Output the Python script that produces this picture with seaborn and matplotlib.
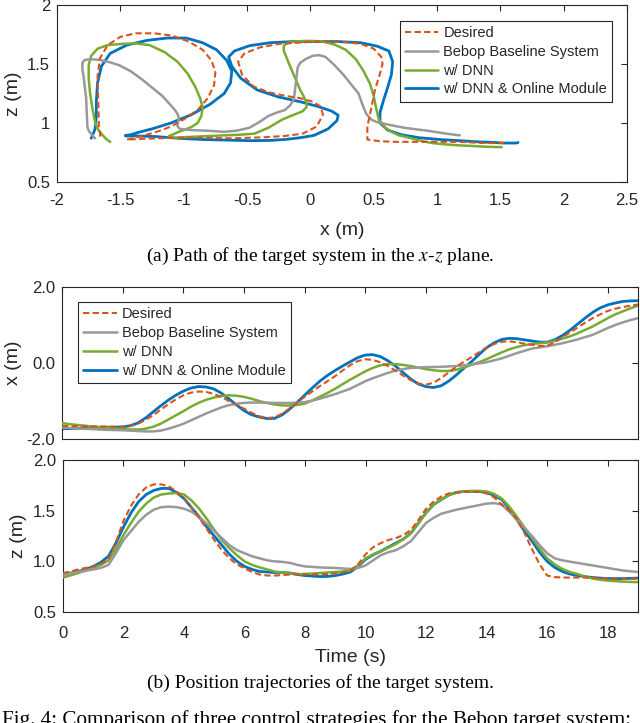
import matplotlib
matplotlib.use("Agg")
import matplotlib.pyplot as plt
import seaborn as sns
import numpy as np
import pandas as pd

# time samples (s)
t = [0.0, 0.25, 0.5, 0.75, 1.0, 1.25, 1.5, 1.75, 2.0, 2.25, 2.5, 2.75,
     3.0, 3.25, 3.5, 3.75, 4.0, 4.25, 4.5, 4.75, 5.0, 5.25, 5.5, 5.75,
     6.0, 6.25, 6.5, 6.75, 7.0, 7.25, 7.5, 7.75, 8.0, 8.25, 8.5, 8.75,
     9.0, 9.25, 9.5, 9.75, 10.0, 10.25, 10.5, 10.75, 11.0, 11.25, 11.5, 11.75,
     12.0, 12.25, 12.5, 12.75, 13.0, 13.25, 13.5, 13.75, 14.0, 14.25, 14.5, 14.75,
     15.0, 15.25, 15.5, 15.75, 16.0, 16.25, 16.5, 16.75, 17.0, 17.25, 17.5, 17.75,
     18.0, 18.25, 18.5, 18.75, 19.0]

# x position (m)
x_desired = [-1.66, -1.66, -1.66, -1.665, -1.67, -1.67, -1.67, -1.675, -1.68, -1.66, -1.60, -1.50,
             -1.38, -1.23, -1.09, -0.96, -0.85, -0.78, -0.75, -0.76, -0.81, -0.89, -1.00, -1.10,
             -1.20, -1.31, -1.40, -1.45, -1.43, -1.34, -1.20, -1.05, -0.89, -0.75, -0.61, -0.48,
             -0.35, -0.20, -0.06, 0.05, 0.10, 0.08, 0.02, -0.08, -0.20, -0.33, -0.45, -0.54,
             -0.57, -0.52, -0.40, -0.25, -0.10, 0.03, 0.15, 0.28, 0.40, 0.50, 0.56, 0.57,
             0.55, 0.51, 0.48, 0.45, 0.45, 0.55, 0.68, 0.80, 0.93, 1.06, 1.18, 1.28,
             1.37, 1.43, 1.47, 1.51, 1.54]
x_bebop = [-1.70, -1.71, -1.72, -1.73, -1.74, -1.75, -1.76, -1.765, -1.77, -1.78, -1.79, -1.80,
           -1.80, -1.78, -1.73, -1.67, -1.60, -1.51, -1.42, -1.33, -1.25, -1.17, -1.11, -1.07,
           -1.05, -1.04, -1.04, -1.045, -1.05, -1.05, -1.05, -1.045, -1.03, -0.99, -0.94, -0.88,
           -0.82, -0.75, -0.68, -0.58, -0.48, -0.40, -0.33, -0.26, -0.20, -0.16, -0.13, -0.12,
           -0.11, -0.105, -0.10, -0.09, -0.08, -0.06, -0.04, -0.01, 0.02, 0.07, 0.12, 0.19,
           0.26, 0.32, 0.38, 0.41, 0.44, 0.48, 0.52, 0.57, 0.62, 0.68, 0.74, 0.83,
           0.92, 1.00, 1.07, 1.13, 1.18]
x_dnn = [-1.58, -1.61, -1.63, -1.65, -1.67, -1.685, -1.70, -1.72, -1.74, -1.75, -1.75, -1.73,
         -1.68, -1.60, -1.49, -1.38, -1.27, -1.15, -1.05, -0.97, -0.91, -0.87, -0.85, -0.86,
         -0.89, -0.94, -1.00, -1.05, -1.09, -1.115, -1.12, -1.105, -1.07, -0.99, -0.89, -0.79,
         -0.68, -0.56, -0.44, -0.33, -0.22, -0.13, -0.06, -0.03, -0.03, -0.05, -0.08, -0.12,
         -0.16, -0.19, -0.21, -0.21, -0.18, -0.12, -0.05, 0.02, 0.10, 0.19, 0.28, 0.36,
         0.42, 0.47, 0.50, 0.52, 0.54, 0.58, 0.64, 0.70, 0.78, 0.87, 0.96, 1.07,
         1.18, 1.28, 1.36, 1.44, 1.51]
x_online = [-1.73, -1.725, -1.72, -1.71, -1.70, -1.695, -1.69, -1.69, -1.68, -1.65, -1.58, -1.45,
            -1.29, -1.13, -0.98, -0.85, -0.74, -0.66, -0.62, -0.63, -0.68, -0.79, -0.94, -1.10,
            -1.25, -1.36, -1.42, -1.46, -1.46, -1.37, -1.22, -1.04, -0.85, -0.66, -0.48, -0.33,
            -0.20, -0.08, 0.03, 0.14, 0.21, 0.22, 0.17, 0.06, -0.08, -0.25, -0.42, -0.55,
            -0.62, -0.645, -0.60, -0.48, -0.32, -0.14, 0.03, 0.22, 0.40, 0.53, 0.62, 0.65,
            0.64, 0.61, 0.58, 0.55, 0.55, 0.61, 0.72, 0.86, 1.02, 1.18, 1.33, 1.45,
            1.53, 1.58, 1.62, 1.635, 1.64]

# z position (m)
z_desired = [0.885, 0.90, 0.92, 0.935, 0.95, 0.975, 1.02, 1.19, 1.40, 1.55, 1.66, 1.73,
             1.76, 1.76, 1.74, 1.69, 1.62, 1.53, 1.43, 1.32, 1.21, 1.11, 1.03, 0.97,
             0.93, 0.895, 0.87, 0.86, 0.86, 0.865, 0.87, 0.875, 0.875, 0.872, 0.87, 0.875,
             0.88, 0.89, 0.91, 0.97, 1.07, 1.14, 1.18, 1.21, 1.23, 1.26, 1.31, 1.41,
             1.52, 1.59, 1.64, 1.67, 1.68, 1.69, 1.69, 1.685, 1.67, 1.63, 1.56, 1.50,
             1.42, 1.28, 1.12, 0.97, 0.86, 0.845, 0.84, 0.84, 0.84, 0.84, 0.84, 0.835,
             0.83, 0.83, 0.83, 0.83, 0.83]
z_bebop = [0.87, 0.882, 0.895, 0.907, 0.92, 0.935, 0.965, 1.08, 1.21, 1.30, 1.39, 1.46,
           1.51, 1.535, 1.54, 1.535, 1.52, 1.49, 1.44, 1.37, 1.30, 1.23, 1.16, 1.11,
           1.08, 1.05, 1.03, 1.01, 1.00, 0.995, 0.985, 0.965, 0.95, 0.945, 0.94, 0.937,
           0.935, 0.93, 0.925, 0.935, 0.96, 1.01, 1.06, 1.09, 1.11, 1.15, 1.20, 1.29,
           1.38, 1.43, 1.47, 1.49, 1.51, 1.525, 1.54, 1.555, 1.57, 1.575, 1.56, 1.49,
           1.41, 1.33, 1.25, 1.16, 1.08, 1.03, 1.01, 0.997, 0.985, 0.972, 0.96, 0.947,
           0.935, 0.922, 0.91, 0.902, 0.895]
z_dnn = [0.84, 0.862, 0.885, 0.91, 0.935, 0.965, 1.01, 1.12, 1.26, 1.38, 1.49, 1.57,
         1.63, 1.66, 1.67, 1.675, 1.66, 1.60, 1.52, 1.42, 1.31, 1.21, 1.13, 1.06,
         1.00, 0.965, 0.94, 0.92, 0.90, 0.89, 0.88, 0.875, 0.875, 0.88, 0.885, 0.89,
         0.895, 0.90, 0.91, 0.96, 1.03, 1.07, 1.10, 1.135, 1.17, 1.22, 1.28, 1.38,
         1.48, 1.56, 1.61, 1.655, 1.68, 1.69, 1.695, 1.695, 1.69, 1.665, 1.62, 1.54,
         1.44, 1.335, 1.23, 1.125, 1.03, 0.97, 0.925, 0.895, 0.875, 0.85, 0.83, 0.818,
         0.81, 0.805, 0.80, 0.797, 0.795]
z_online = [0.87, 0.885, 0.90, 0.92, 0.95, 0.99, 1.05, 1.18, 1.34, 1.48, 1.59, 1.66,
            1.70, 1.72, 1.72, 1.68, 1.62, 1.53, 1.44, 1.34, 1.25, 1.16, 1.07, 1.00,
            0.95, 0.92, 0.90, 0.895, 0.89, 0.89, 0.885, 0.87, 0.86, 0.855, 0.85, 0.852,
            0.86, 0.875, 0.895, 0.95, 1.02, 1.065, 1.10, 1.14, 1.18, 1.22, 1.28, 1.38,
            1.48, 1.56, 1.61, 1.655, 1.68, 1.69, 1.69, 1.69, 1.68, 1.65, 1.61, 1.52,
            1.41, 1.30, 1.20, 1.09, 1.00, 0.94, 0.90, 0.875, 0.86, 0.85, 0.84, 0.835,
            0.83, 0.83, 0.83, 0.832, 0.835]

names = ["Desired", "Bebop Baseline System", "w/ DNN", "w/ DNN & Online Module"]
xs = [x_desired, x_bebop, x_dnn, x_online]
zs = [z_desired, z_bebop, z_dnn, z_online]

frames = []
for name, xv, zv in zip(names, xs, zs):
    frames.append(pd.DataFrame({"t": t, "x": xv, "z": zv, "series": name}))
df = pd.concat(frames, ignore_index=True)

styles = {
    "Desired": dict(color="#D95319", lw=1.5, ls=(0, (3, 1.6)), zorder=5),
    "Bebop Baseline System": dict(color="#999999", lw=1.8, ls="-", zorder=4),
    "w/ DNN": dict(color="#77AC30", lw=1.8, ls="-", zorder=3),
    "w/ DNN & Online Module": dict(color="#0072BD", lw=2.0, ls="-", zorder=2),
}

sns.set_theme(style="white")
plt.rcParams["font.family"] = ["Liberation Sans", "DejaVu Sans"]
plt.rcParams["axes.unicode_minus"] = False
plt.rcParams["mathtext.fontset"] = "stix"

edge = "#262626"

fig = plt.figure(figsize=(6.4, 7.23), dpi=100)
ax_xz = fig.add_axes([0.0891, 0.7483, 0.8906, 0.2448])
ax_x = fig.add_axes([0.0969, 0.3928, 0.9000, 0.2102])
ax_z = fig.add_axes([0.0984, 0.1535, 0.8984, 0.2102])


def draw(ax, xcol, ycol):
    for name in names:
        st = styles[name]
        sns.lineplot(ax=ax, data=df[df["series"] == name], x=xcol, y=ycol,
                     estimator=None, sort=False, color=st["color"],
                     linewidth=st["lw"], linestyle=st["ls"], zorder=st["zorder"],
                     solid_joinstyle="round", label=name)


def style_axes(ax, xpad):
    for sp in ax.spines.values():
        sp.set_color(edge)
        sp.set_linewidth(0.8)
        sp.set_visible(True)
    ax.tick_params(direction="in", top=True, right=True, length=4.5, width=0.8,
                   color=edge, labelcolor=edge, labelsize=12, pad=5)
    ax.tick_params(axis="x", pad=xpad)
    ax.set_facecolor("white")


def add_legend(ax, loc, anchor):
    handles, labels = ax.get_legend_handles_labels()
    order = [labels.index(n) for n in names]
    leg = ax.legend([handles[i] for i in order], [labels[i] for i in order],
                    loc=loc, bbox_to_anchor=anchor, borderaxespad=0,
                    fontsize=10.5, frameon=True, fancybox=False, framealpha=1,
                    edgecolor=edge, handlelength=2.3, handletextpad=0.35,
                    borderpad=0.35, labelspacing=0.33)
    leg.get_frame().set_linewidth(0.8)
    leg.set_zorder(10)


# (a) x-z path
draw(ax_xz, "x", "z")
ax_xz.set_xlim(-2, 2.5)
ax_xz.set_ylim(0.5, 2)
ax_xz.set_xticks([-2, -1.5, -1, -0.5, 0, 0.5, 1, 1.5, 2, 2.5])
ax_xz.set_xticklabels(["-2", "-1.5", "-1", "-0.5", "0", "0.5", "1", "1.5", "2", "2.5"])
ax_xz.set_yticks([0.5, 1, 1.5, 2])
ax_xz.set_yticklabels(["0.5", "1", "1.5", "2"])
ax_xz.set_xlabel("x (m)", fontsize=14, color=edge, labelpad=10)
ax_xz.set_ylabel("z (m)", fontsize=14, color=edge, labelpad=4)
style_axes(ax_xz, 8)
add_legend(ax_xz, "upper right", (0.974, 0.91))

# (b) x over time
draw(ax_x, "t", "x")
ax_x.set_xlim(0, 19)
ax_x.set_ylim(-2, 2)
ax_x.set_xticks([0, 2, 4, 6, 8, 10, 12, 14, 16, 18])
ax_x.set_xticklabels([])
ax_x.set_yticks([-2, 0, 2])
ax_x.set_yticklabels(["-2.0", "0.0", "2.0"])
ax_x.set_xlabel("")
ax_x.set_ylabel("x (m)", fontsize=14, color=edge, labelpad=3)
style_axes(ax_x, 5)
add_legend(ax_x, "upper left", (0.028, 0.90))

# z over time
draw(ax_z, "t", "z")
ax_z.set_xlim(0, 19)
ax_z.set_ylim(0.5, 2)
ax_z.set_xticks([0, 2, 4, 6, 8, 10, 12, 14, 16, 18])
ax_z.set_xticklabels(["0", "2", "4", "6", "8", "10", "12", "14", "16", "18"])
ax_z.set_yticks([0.5, 1.0, 1.5, 2.0])
ax_z.set_yticklabels(["0.5", "1.0", "1.5", "2.0"])
ax_z.set_xlabel("Time (s)", fontsize=14, color=edge, labelpad=6)
ax_z.set_ylabel("z (m)", fontsize=14, color=edge, labelpad=4)
ax_z.get_legend().remove()
style_axes(ax_z, 10)

serif = ["Liberation Serif", "DejaVu Serif"]
fig.text(0.5, 1 - 256 / 723, "(a) Path of the target system in the $x$-$z$ plane.",
         ha="center", va="center", fontsize=14, family=serif, color="black")
fig.text(0.5, 1 - 683 / 723, "(b) Position trajectories of the target system.",
         ha="center", va="center", fontsize=14, family=serif, color="black")
fig.text(0.003, 1 - 710 / 723,
         "Fig. 4: Comparison of three control strategies for the Bebop target system:",
         ha="left", va="top", fontsize=15.2, family=serif, color="black")

fig.savefig("out.png", dpi=100)
